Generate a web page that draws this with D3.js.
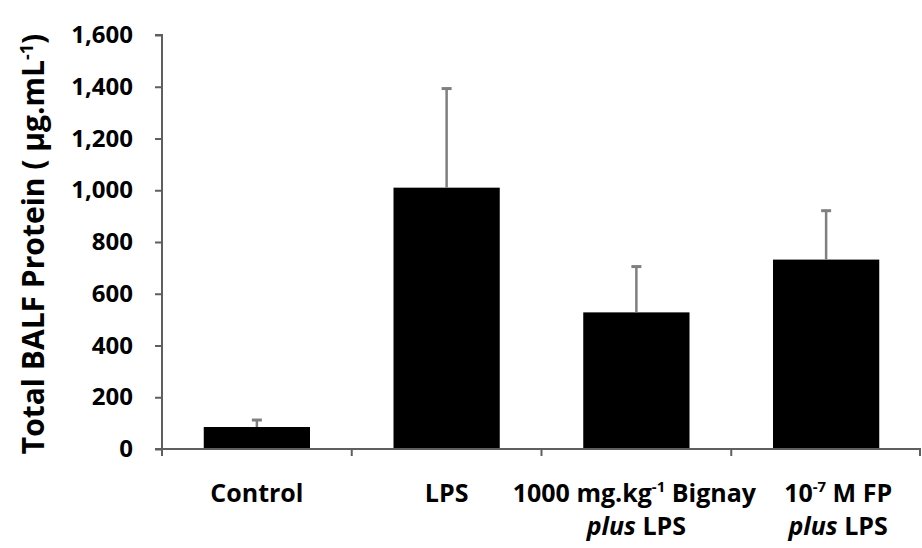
<!DOCTYPE html>
<html>
<head>
<meta charset="utf-8">
<script src="https://cdn.jsdelivr.net/npm/d3@7"></script>
<style>
  body { margin: 0; background: #fff; }
  svg text { font-family: "Open Sans", "Noto Sans", sans-serif; font-weight: bold; fill: #000; }
</style>
</head>
<body>
<svg id="chart"></svg>
<script>
var categories = ["Control", "LPS", "Bignay", "FP"]
var values = [85, 1010, 528, 732]
var errors = [27, 383, 177, 189]
var yTicks = [0, 200, 400, 600, 800, 1000, 1200, 1400, 1600]

var width = 922,
    height = 548
var margin = {
  top: 35,
  right: 1,
  bottom: 99,
  left: 162
}

var svg = d3.select('#chart').attr('width', width).attr('height', height)

var innerW = width - margin.left - margin.right
var innerH = height - margin.top - margin.bottom

var xScale = d3.scaleBand()
    .domain(categories)
    .range([0, innerW])
    .paddingInner(0.44)
    .paddingOuter(0.22)

var yScale = d3.scaleLinear()
    .domain([0, 1600])
    .range([innerH, 0])

var g = svg.append('g')
    .attr('transform', 'translate(' + margin.left + ',' + margin.top + ')')

// bars
g.selectAll('rect.bar')
    .data(values)
    .enter()
    .append('rect')
    .attr('class', 'bar')
    .attr('x', function(d, i) { return xScale(categories[i]) })
    .attr('y', function(d) { return yScale(d) })
    .attr('width', xScale.bandwidth())
    .attr('height', function(d) { return innerH - yScale(d) })
    .style('fill', '#000')

// error bars (upper only)
var err = g.selectAll('g.err')
    .data(values)
    .enter()
    .append('g')
    .attr('class', 'err')
err.append('line')
    .attr('x1', function(d, i) { return xScale(categories[i]) + xScale.bandwidth() / 2 })
    .attr('x2', function(d, i) { return xScale(categories[i]) + xScale.bandwidth() / 2 })
    .attr('y1', function(d) { return yScale(d) })
    .attr('y2', function(d, i) { return yScale(d + errors[i]) })
    .style('stroke', '#7f7f7f')
    .style('stroke-width', 2.5)
err.append('line')
    .attr('x1', function(d, i) { return xScale(categories[i]) + xScale.bandwidth() / 2 - 5 })
    .attr('x2', function(d, i) { return xScale(categories[i]) + xScale.bandwidth() / 2 + 5 })
    .attr('y1', function(d, i) { return yScale(d + errors[i]) })
    .attr('y2', function(d, i) { return yScale(d + errors[i]) })
    .style('stroke', '#7f7f7f')
    .style('stroke-width', 3)

// y axis
var yAxis = d3.axisLeft(yScale)
    .tickValues(yTicks)
    .tickSize(7)
    .tickPadding(22)
    .tickFormat(d3.format(','))
var yG = g.append('g').call(yAxis)
yG.select('.domain').style('stroke', '#5f5f5f').style('stroke-width', 2)
    .attr('d', 'M-7,0H0V' + innerH)
yG.selectAll('.tick line').style('stroke', '#5f5f5f').style('stroke-width', 2)
yG.selectAll('.tick text').style('font-size', '24px').style('fill', '#000')
    .style('font-family', '"Open Sans", sans-serif').style('font-weight', 'bold')

// x axis with boundary ticks
var xG = g.append('g').attr('transform', 'translate(0,' + innerH + ')')
xG.append('line')
    .attr('x1', -7).attr('x2', innerW)
    .style('stroke', '#5f5f5f').style('stroke-width', 2)
var bounds = categories.map(function(c) { return xScale(c) - xScale.step() * xScale.paddingInner() / 2 })
bounds.push(innerW - 1)
bounds[0] = 0
xG.selectAll('line.xt')
    .data(bounds)
    .enter()
    .append('line')
    .attr('class', 'xt')
    .attr('x1', function(d) { return d }).attr('x2', function(d) { return d })
    .attr('y1', 0).attr('y2', 7)
    .style('stroke', '#5f5f5f').style('stroke-width', 2)

// category labels
var labelY = margin.top + innerH + 53
var line2 = 33
function cx(i) { return margin.left + xScale(categories[i]) + xScale.bandwidth() / 2 }
var lbl = svg.append('g').style('font-size', '25px').attr('text-anchor', 'middle')

lbl.append('text').attr('x', cx(0)).attr('y', labelY).text('Control')
lbl.append('text').attr('x', cx(1)).attr('y', labelY).text('LPS')

var t2 = lbl.append('text').attr('x', cx(2) - 2).attr('y', labelY)
t2.append('tspan').text('1000 mg.kg')
t2.append('tspan').attr('dy', -10).style('font-size', '15px').text('-1')
t2.append('tspan').attr('dy', 10).text(' Bignay')
var t2b = lbl.append('text').attr('x', cx(2)).attr('y', labelY + line2)
t2b.append('tspan').style('font-style', 'italic').text('plus')
t2b.append('tspan').text(' LPS')

var t3 = lbl.append('text').attr('x', cx(3) + 12).attr('y', labelY)
t3.append('tspan').text('10')
t3.append('tspan').attr('dy', -10).style('font-size', '15px').text('-7')
t3.append('tspan').attr('dy', 10).text(' M FP')
var t3b = lbl.append('text').attr('x', cx(3) + 12).attr('y', labelY + line2)
t3b.append('tspan').style('font-style', 'italic').text('plus')
t3b.append('tspan').text(' LPS')

// y title
var yt = svg.append('text')
    .attr('transform', 'translate(44,' + (margin.top + innerH / 2 + 2) + ') rotate(-90)')
    .attr('text-anchor', 'middle')
    .style('font-size', '30px')
yt.append('tspan').text('Total BALF Protein ( µg.mL')
yt.append('tspan').attr('dy', -11).style('font-size', '18px').text('-1')
yt.append('tspan').attr('dy', 11).text(')')
</script>
</body>
</html>
